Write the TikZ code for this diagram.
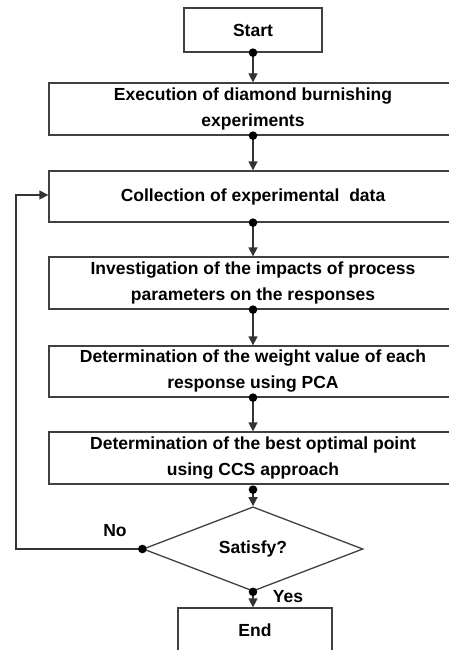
\documentclass[tikz,border=0pt]{standalone}
\usepackage{fontspec}
\setmainfont{Liberation Sans}
\usetikzlibrary{shapes.geometric,arrows.meta}
\begin{document}
\begin{tikzpicture}[x=1pt,y=-1pt,
  every node/.style={font=\fontsize{17.5}{26}\selectfont\bfseries, text=black},
  box/.style={draw=black!75, line width=1.3pt, rectangle, inner sep=0pt, align=center},
  dec/.style={draw=black!75, line width=1.3pt, diamond, inner sep=0pt, minimum width=220pt, minimum height=68pt},
  link/.style={draw=black!80, line width=1.3pt, -{Triangle[length=9pt,width=9pt]}},
  dot/.style={fill=black}
]
\useasboundingbox (0,0) rectangle (448,650);
\node[box, minimum width=138pt, minimum height=44pt] (start) at (253,30) {Start};
\node[box, minimum width=408pt, minimum height=52pt] (exec) at (253,109) {Execution of diamond burnishing\\experiments};
\node[box, minimum width=408pt, minimum height=51pt] (coll) at (253,196.5) {Collection of experimental\ \ data};
\node[box, minimum width=408pt, minimum height=52pt] (inv) at (253,283) {Investigation of the impacts of process\\parameters on the responses};
\node[box, minimum width=408pt, minimum height=51pt] (wt) at (253,371.5) {Determination of the weight value of each\\response using PCA};
\node[box, minimum width=408pt, minimum height=52pt] (best) at (253,458) {Determination of the best optimal point\\using CCS approach};
\node[dec] (sat) at (253,549) {Satisfy?};
\node[box, minimum width=154pt, minimum height=44pt] (end) at (255,630) {End};
\coordinate (corner1) at (16,549);
\coordinate (corner2) at (16,195);
\node (no) at (115,531) {No};
\node (yes) at (288,597) {Yes};

\foreach \a/\b in {start/exec, exec/coll, coll/inv, inv/wt, wt/best}{
  \draw[link] (\a.south) -- (\b.north);
  \fill[dot] (\a.south) circle (4.3pt);
}
\draw[link] ([yshift=-5pt]best.south) -- (sat.north);
\fill[dot] ([yshift=-5pt]best.south) circle (4.3pt);
\draw[link] (sat.south) -- (sat.south |- end.north);
\fill[dot] (sat.south) circle (4.3pt);
\draw[link] (sat.west) -- (corner1) -- (corner2) -- (coll.west |- corner2);
\fill[dot] (sat.west) circle (4.3pt);
\end{tikzpicture}
\end{document}
